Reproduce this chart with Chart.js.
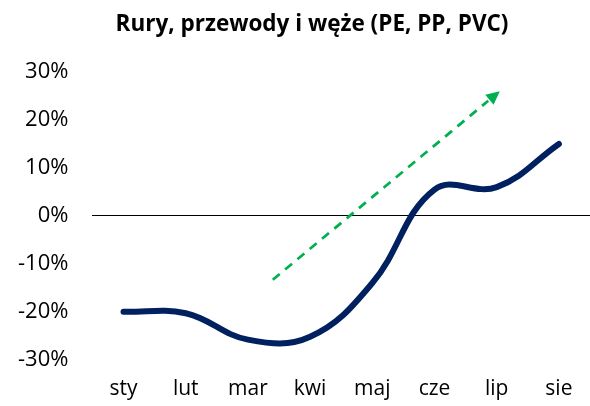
<!DOCTYPE html>
<html>
<head>
<meta charset="utf-8">
<script src="https://cdn.jsdelivr.net/npm/chart.js@4/dist/chart.umd.min.js"></script>
<style>
  body { margin: 0; background: #fff; }
</style>
</head>
<body>
<canvas id="canvas" width="590" height="406"></canvas>
<script>
// data
var months = ['sty', 'lut', 'mar', 'kwi', 'maj', 'cze', 'lip', 'sie'];
var values = [-20, -20.3, -25.8, -25.2, -14, 5.5, 6, 15];
var yTicks = [-30, -20, -10, 0, 10, 20, 30];
// trend arrow: [category index, value] start and end
var arrowFrom = [2.4, -13.3];
var arrowTo = [6.05, 26];

var arrowPlugin = {
  id: 'trendArrow',
  afterLayout: function(chart) {
    // title sits a bit right of the canvas centre in the original
    chart.titleBlock.left += 36;
  },
  afterDatasetsDraw: function(chart) {
    var ctx = chart.ctx;
    var xs = chart.scales.x, ys = chart.scales.y;
    var x1 = xs.getPixelForValue(arrowFrom[0]), y1 = ys.getPixelForValue(arrowFrom[1]);
    var x2 = xs.getPixelForValue(arrowTo[0]), y2 = ys.getPixelForValue(arrowTo[1]);
    var ang = Math.atan2(y2 - y1, x2 - x1);
    var head = 15;
    ctx.save();
    ctx.strokeStyle = '#00B050';
    ctx.fillStyle = '#00B050';
    ctx.lineWidth = 2.75;
    ctx.setLineDash([9, 7]);
    ctx.beginPath();
    ctx.moveTo(x1, y1);
    ctx.lineTo(x2 - Math.cos(ang) * head, y2 - Math.sin(ang) * head);
    ctx.stroke();
    ctx.setLineDash([]);
    ctx.beginPath();
    ctx.moveTo(x2, y2);
    ctx.lineTo(x2 - Math.cos(ang - 0.45) * head, y2 - Math.sin(ang - 0.45) * head);
    ctx.lineTo(x2 - Math.cos(ang + 0.45) * head, y2 - Math.sin(ang + 0.45) * head);
    ctx.closePath();
    ctx.fill();
    ctx.restore();
  }
};

var ctx = document.getElementById('canvas').getContext('2d');
var myChart = new Chart(ctx, {
  type: 'line',
  data: {
    labels: months,
    datasets: [{
      data: values,
      borderColor: '#002060',
      borderWidth: 6,
      borderCapStyle: 'round',
      tension: 0.4,
      pointRadius: 0,
      fill: false
    }]
  },
  options: {
    responsive: false,
    animation: false,
    layout: { padding: { top: 0, right: -4, left: -6, bottom: -5 } },
    plugins: {
      legend: { display: false },
      tooltip: { enabled: false },
      title: {
        display: true,
        text: 'Rury, przewody i węże (PE, PP, PVC)',
        color: '#000',
        font: { family: 'Open Sans', size: 22.5, weight: 'bold' },
        padding: { top: 11, bottom: 34 }
      }
    },
    scales: {
      x: {
        offset: true,
        grid: { display: false },
        border: { display: false },
        ticks: {
          color: '#000',
          font: { family: 'Open Sans', size: 21 },
          padding: 9,
          maxRotation: 0
        }
      },
      y: {
        min: -30,
        max: 30,
        border: { display: false },
        grid: {
          drawTicks: false,
          color: function(c) { return c.tick && c.tick.value === 0 ? '#000' : 'rgba(0,0,0,0)'; },
          lineWidth: 1
        },
        afterBuildTicks: function(axis) {
          axis.ticks = yTicks.map(function(v) { return { value: v }; });
        },
        ticks: {
          color: '#000',
          font: { family: 'Open Sans', size: 22 },
          padding: 24,
          callback: function(v) { return v + '%'; }
        }
      }
    }
  },
  plugins: [arrowPlugin]
});
</script>
</body>
</html>
